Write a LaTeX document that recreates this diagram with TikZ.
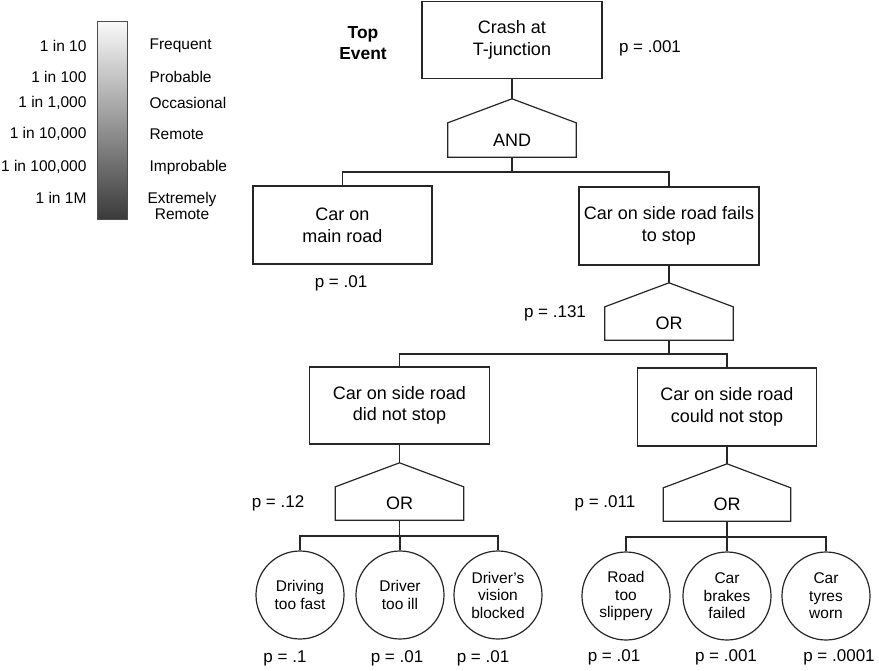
\documentclass[tikz,border=0pt]{standalone}
\usepackage{fontspec}
\setmainfont{Liberation Sans}
\definecolor{bardark}{RGB}{58,58,58}
\definecolor{barlight}{RGB}{250,250,250}
\usetikzlibrary{positioning}

% pentagon outline of a logic gate, drawn round a named node
\newcommand{\gateshape}[1]{%
  \coordinate (#1-top) at ([yshift=24pt]#1.north);
  \draw[wire] (#1.south west) -- (#1.north west) -- (#1-top)
    -- (#1.north east) -- (#1.south east) -- cycle;}

\begin{document}
\begin{tikzpicture}[
      x=1pt, y=-1pt,
      wire/.style={line width=1.2pt, color=black!85},
      event/.style={rectangle, draw=black!85, line width=1.2pt, minimum width=180,
                  minimum height=77, align=center,
                  font=\fontsize{18}{21.6}\selectfont},
      gate/.style={rectangle, minimum width=128, minimum height=34,
                  font=\fontsize{18}{21.6}\selectfont},
      cause/.style={circle, draw=black!85, line width=1.2pt, minimum size=88,
                  inner sep=1pt, align=center,
                  font=\fontsize{15.5}{17.5}\selectfont},
      prob/.style={font=\fontsize{17}{20}\selectfont},
      scalelbl/.style={font=\fontsize{15.5}{18}\selectfont}
    ]
    \useasboundingbox (0,0) rectangle (879,670);

    % likelihood scale
    \node[draw=black!70, line width=0.8pt, minimum width=30, minimum height=198,
          top color=barlight, bottom color=bardark] (bar) at (112,120) {};
    \node[scalelbl, anchor=east] (s1) at (90,46)  {1 in 10};
    \node[scalelbl, anchor=east] (s2) at (90,77)  {1 in 100};
    \node[scalelbl, anchor=east] (s3) at (90,103) {1 in 1,000};
    \node[scalelbl, anchor=east] (s4) at (90,134) {1 in 10,000};
    \node[scalelbl, anchor=east] (s5) at (90,167) {1 in 100,000};
    \node[scalelbl, anchor=east] (s6) at (90,198) {1 in 1M};
    \node[scalelbl, anchor=west] (r1) at (146,46)  {Frequent};
    \node[scalelbl, anchor=west] (r2) at (146,77)  {Probable};
    \node[scalelbl, anchor=west] (r3) at (146,103) {Occasional};
    \node[scalelbl, anchor=west] (r4) at (146,134) {Remote};
    \node[scalelbl, anchor=west] (r5) at (146,167) {Improbable};
    \node[scalelbl, align=center, font=\fontsize{15.5}{16}\selectfont]
          (r6) at (182,206) {Extremely\\Remote};

    % top event
    \node[event] (crash) at (512,40) {Crash at\\T-junction};
    \node[font=\fontsize{17.4}{21}\selectfont\bfseries, align=center]
          (toplbl) at (363,43) {Top\\Event};
    \node[prob] (pcrash) at (650,48) {p = .001};

    \node[gate] (and) at (512,140) {AND};
    \gateshape{and}

    \node[event, minimum width=179, minimum height=78] (main) at (342.5,225) {Car on\\main road};
    \node[event, minimum height=78] (side) at (669,226) {Car on side road fails\\to stop};
    \node[prob] (pmain) at (341,283) {p = .01};

    \node[gate, minimum height=33] (or1) at (669,323.5) {OR};
    \gateshape{or1}
    \node[prob] (pside) at (555,313) {p = .131};

    \node[event] (didnot) at (399.5,405.5) {Car on side road\\did not stop};
    \node[event, minimum width=179, minimum height=78] (couldnot) at (727,407)
          {Car on side road\\could not stop};

    \node[gate, minimum height=33] (or2) at (399.5,503.5) {OR};
    \gateshape{or2}
    \node[prob] (pdid) at (278,503) {p = .12};
    \node[gate, minimum width=127, minimum height=33] (or3) at (727,504.5) {OR};
    \gateshape{or3}
    \node[prob] (pcould) at (605,503) {p = .011};

    % basic causes
    \node[cause] (fast)  at (300,595) {Driving\\too fast};
    \node[cause] (ill)   at (400,595) {Driver\\too ill};
    \node[cause] (sight) at (498,595) {Driver{\char"0027}s\\vision\\blocked};
    \node[cause] (slip)  at (626,596) {Road\\too\\slippery};
    \node[cause] (brake) at (727,596) {Car\\brakes\\failed};
    \node[cause] (tyre)  at (826,596) {Car\\tyres\\worn};

    \node[prob] (pfast)  at (285,658) {p = .1};
    \node[prob] (pill)   at (397,658) {p = .01};
    \node[prob] (psight) at (483,658) {p = .01};
    \node[prob] (pslip)  at (614,657) {p = .01};
    \node[prob] (pbrake) at (726,657) {p = .001};
    \node[prob] (ptyre)  at (839,657) {p = .0001};

    % connectors
    \coordinate (andbus) at (512,172);
    \coordinate (or1bus) at (669,354);
    \coordinate (or2bus) at (399.5,536);
    \coordinate (or3bus) at (727,537);

    \draw[wire] (crash.south) -- (and-top);
    \draw[wire] (and.south) -- (andbus);
    \draw[wire] (main.north) |- (andbus) -| (side.north);

    \draw[wire] (side.south) -- (or1-top);
    \draw[wire] (or1.south) -- (or1bus);
    \draw[wire] (didnot.north) |- (or1bus) -| (couldnot.north);

    \draw[wire] (didnot.south) -- (or2-top);
    \draw[wire] (or2.south) -- (or2bus);
    \draw[wire] (fast.north) |- (or2bus) -| (sight.north);
    \draw[wire] (ill.north) -- (ill.north |- or2bus);

    \draw[wire] (couldnot.south) -- (or3-top);
    \draw[wire] (or3.south) -- (or3bus);
    \draw[wire] (slip.north) |- (or3bus) -| (tyre.north);
    \draw[wire] (brake.north) -- (brake.north |- or3bus);
  \end{tikzpicture}
\end{document}
